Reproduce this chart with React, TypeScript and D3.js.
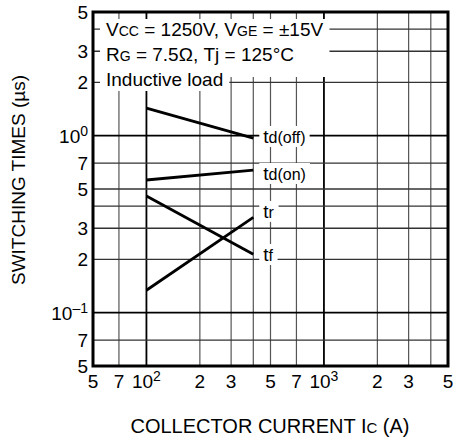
import { useEffect, useRef } from 'react';
import { select, scaleLog, line } from 'd3';

// collector current (A) where the curves are drawn
const currents = [100, 400];
// switching times (µs)
const tdOff = [1.43, 0.97];
const tdOn = [0.562, 0.64];
const trTimes = [0.134, 0.346];
const tfTimes = [0.457, 0.214];

const seriesNames = ['d(off)', 'd(on)', 'r', 'f'];
const seriesValues = [tdOff, tdOn, trTimes, tfTimes];
// value at which each curve label sits
const labelValues = [0.984, 0.608, 0.371, 0.212];

const xGrid = [70, 100, 200, 300, 400, 500, 700, 1000, 2000, 3000, 4000];
const yGrid = [4, 3, 2, 1, 0.7, 0.5, 0.4, 0.3, 0.2, 0.1, 0.07];
const xMajor = [100, 1000];
const yMajor = [1, 0.1];

const xTickValues = [50, 70, 100, 200, 300, 500, 700, 1000, 2000, 3000, 5000];
const xTickLabels = ['5', '7', '10', '2', '3', '5', '7', '10', '2', '3', '5'];
const xTickSups = ['', '', '2', '', '', '', '', '3', '', '', ''];

const yTickValues = [5, 3, 2, 1, 0.7, 0.5, 0.3, 0.2, 0.1, 0.07, 0.05];
const yTickLabels = ['5', '3', '2', '10', '7', '5', '3', '2', '10', '7', '5'];
const yTickSups = ['', '', '', '0', '', '', '', '', '–1', '', ''];

// condition text, [text, small]
const conditions: Array<Array<[string, boolean]>> = [
  [['V', false], ['CC', true], [' = 1250V, V', false], ['GE', true], [' = ±15V', false]],
  [['R', false], ['G', true], [' = 7.5Ω, Tj = 125°C', false]],
  [['Inductive load', false]],
];

const FONT = '"Liberation Sans", Arial, Helvetica, sans-serif';

export default function App() {
  const svgRef = useRef<SVGSVGElement>(null);

  useEffect(() => {
    if (svgRef.current == null) return;
    const svg = select(svgRef.current);
    svg.selectAll('*').remove();

    const left = 93, right = 448, top = 12, bottom = 366;
    const x = scaleLog().domain([50, 5000]).range([left, right]);
    const y = scaleLog().domain([0.05, 5]).range([bottom, top]);

    const g = svg.append('g').attr('font-family', FONT);

    // grid
    g.selectAll('.vgrid').data(xGrid).enter().append('line')
      .attr('x1', d => x(d)).attr('x2', d => x(d))
      .attr('y1', top).attr('y2', bottom)
      .attr('stroke', d => xMajor.includes(d) ? '#000' : '#555')
      .attr('stroke-width', d => xMajor.includes(d) ? 1.8 : 1.2);
    g.selectAll('.hgrid').data(yGrid).enter().append('line')
      .attr('x1', left).attr('x2', right)
      .attr('y1', d => y(d)).attr('y2', d => y(d))
      .attr('stroke', d => yMajor.includes(d) ? '#000' : '#333')
      .attr('stroke-width', d => yMajor.includes(d) ? 1.8 : 1.3);

    // conditions box
    const condG = g.append('g');
    const condTexts = conditions.map((parts, i) => {
      const t = condG.append('text')
        .attr('x', left + 13).attr('y', top + 24 + i * 25)
        .attr('font-size', 19).attr('fill', '#000');
      parts.forEach(([s, small]) => {
        t.append('tspan').attr('font-size', small ? 14 : 19).text(s);
      });
      return t;
    });
    const w12 = Math.max(condTexts[0].node()!.getBBox().width, condTexts[1].node()!.getBBox().width);
    const w3 = condTexts[2].node()!.getBBox().width;
    condG.insert('rect', 'text')
      .attr('x', left + 7).attr('y', top + 7)
      .attr('width', w12 + 12).attr('height', 58).attr('fill', '#fff');
    condG.insert('rect', 'text')
      .attr('x', left + 7).attr('y', top + 55)
      .attr('width', w3 + 12).attr('height', 24).attr('fill', '#fff');

    // curves
    const pathGen = line<number>()
      .x((_, i) => x(currents[i]))
      .y(d => y(d));
    seriesValues.forEach(vals => {
      g.append('path').attr('d', pathGen(vals))
        .attr('fill', 'none').attr('stroke', '#000').attr('stroke-width', 2.8);
    });

    // curve labels
    seriesNames.forEach((name, i) => {
      const lg = g.append('g');
      const t = lg.append('text')
        .attr('x', x(currents[1]) + 10).attr('y', y(labelValues[i]) + 6)
        .attr('fill', '#000');
      t.append('tspan').attr('font-size', 19).text('t');
      t.append('tspan').attr('font-size', 16).text(name);
      const bb = t.node()!.getBBox();
      lg.insert('rect', 'text')
        .attr('x', bb.x - 4).attr('y', bb.y)
        .attr('width', bb.width + 8).attr('height', bb.height)
        .attr('fill', '#fff');
    });

    // frame
    g.append('rect').attr('x', left).attr('y', top)
      .attr('width', right - left).attr('height', bottom - top)
      .attr('fill', 'none').attr('stroke', '#000').attr('stroke-width', 3);

    // x tick labels
    xTickValues.forEach((v, i) => {
      const t = g.append('text').attr('x', x(v)).attr('y', bottom + 22)
        .attr('text-anchor', 'middle').attr('font-size', 19);
      t.append('tspan').text(xTickLabels[i]);
      if (xTickSups[i]) t.append('tspan').attr('font-size', 14).attr('dy', -7).text(xTickSups[i]);
    });

    // y tick labels
    yTickValues.forEach((v, i) => {
      const t = g.append('text').attr('x', left - 5).attr('y', y(v) + 7)
        .attr('text-anchor', 'end').attr('font-size', 19);
      t.append('tspan').text(yTickLabels[i]);
      if (yTickSups[i]) t.append('tspan').attr('font-size', 14).attr('dy', -7).text(yTickSups[i]);
    });

    // axis titles
    const xt = g.append('text').attr('x', 270).attr('y', 433)
      .attr('text-anchor', 'middle').attr('font-size', 20);
    xt.append('tspan').text('COLLECTOR CURRENT I');
    xt.append('tspan').attr('font-size', 15).text('C');
    xt.append('tspan').text(' (A)');

    g.append('text').attr('transform', 'translate(25,180) rotate(-90)')
      .attr('text-anchor', 'middle').attr('font-size', 19)
      .text('SWITCHING TIMES (µs)');
  }, []);

  return (
    <svg ref={svgRef} width={453} height={441}
      style={{ position: 'absolute', left: 0, top: 0, background: '#fff' }} />
  );
}
